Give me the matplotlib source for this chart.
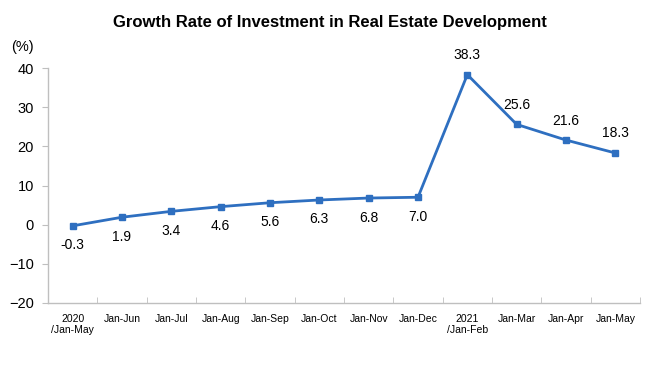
import matplotlib
matplotlib.use("Agg")
import matplotlib.pyplot as plt

categories = ["2020\n/Jan-May", "Jan-Jun", "Jan-Jul", "Jan-Aug", "Jan-Sep", "Jan-Oct",
              "Jan-Nov", "Jan-Dec", "2021\n/Jan-Feb", "Jan-Mar", "Jan-Apr", "Jan-May"]
values = [-0.3, 1.9, 3.4, 4.6, 5.6, 6.3, 6.8, 7.0, 38.3, 25.6, 21.6, 18.3]
label_above = [False] * 8 + [True] * 4

plt.rcParams['font.family'] = ['Liberation Sans', 'DejaVu Sans']

fig = plt.figure(figsize=(6.59, 3.92), dpi=100)
ax = fig.add_axes([48/659, 1-303/392, 592/659, 235/392])

x = list(range(len(values)))
color = "#2E6FC0"
ax.plot(x, values, color=color, lw=2, marker="s", ms=4.5, zorder=3)

for xi, v, above in zip(x, values, label_above):
    if above:
        ax.annotate(f"{v:.1f}", (xi, v), xytext=(0, 9), textcoords="offset points",
                    ha="center", va="bottom", fontsize=10, color="black")
    else:
        ax.annotate(f"{v:.1f}", (xi, v), xytext=(0, -9), textcoords="offset points",
                    ha="center", va="top", fontsize=10, color="black")

ax.set_xlim(-0.5, len(values) - 0.5)
ax.set_ylim(-20, 40)
ax.set_yticks(range(-20, 41, 10))
ax.set_xticks(x)
ax.set_xticklabels(categories, fontsize=7.5, linespacing=1.1)
ax.set_xticks([i + 0.5 for i in range(-1, len(values))], minor=True)
ax.tick_params(axis="x", which="major", length=0, pad=8)
ax.tick_params(axis="x", which="minor", direction="in", length=4, color="#BFBFBF")
ax.tick_params(axis="y", labelsize=10.5, length=4, color="#BFBFBF", pad=6)

for s in ["top", "right"]:
    ax.spines[s].set_visible(False)
for s in ["left", "bottom"]:
    ax.spines[s].set_color("#BFBFBF")
    ax.spines[s].set_linewidth(1)

fig.text(0.5, 1 - 22/392, "Growth Rate of Investment in Real Estate Development",
         ha="center", va="center", fontsize=12, fontweight="bold")
fig.text(22/659, 1 - 47/392, "(%)", ha="center", va="center", fontsize=10.5)

fig.savefig("out.png", dpi=100)
